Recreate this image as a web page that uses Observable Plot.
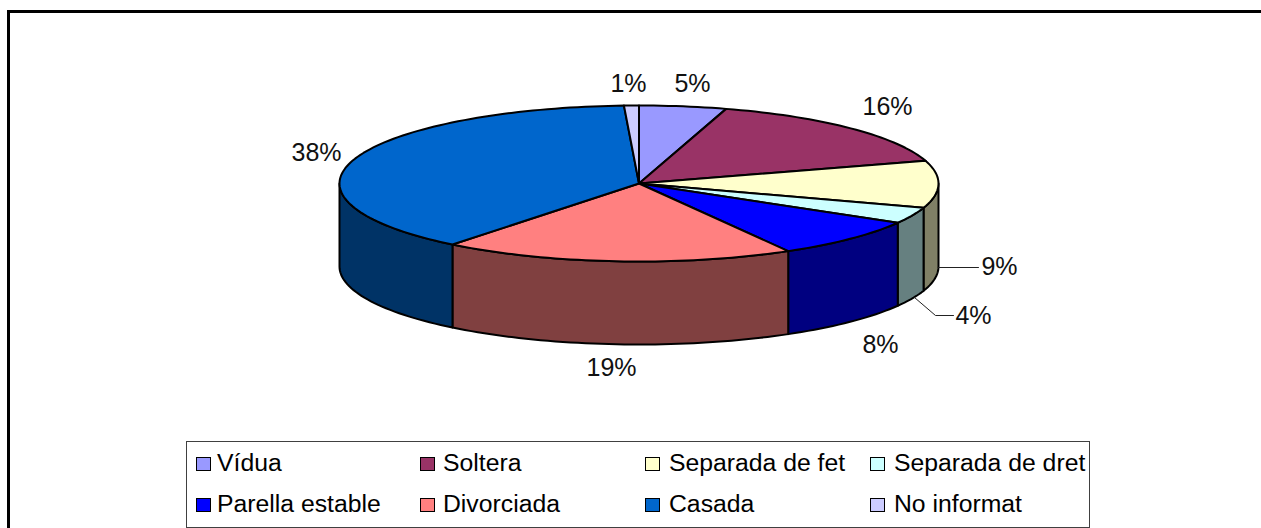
<!DOCTYPE html>
<html>
<head>
<meta charset="utf-8">
<script src="https://cdn.jsdelivr.net/npm/d3@7"></script>
<script src="https://cdn.jsdelivr.net/npm/@observablehq/plot@0.6"></script>
<style>
  html, body { margin: 0; padding: 0; background: #fff; overflow: hidden; }
  #stage { position: relative; width: 1261px; height: 528px; font-family: "Liberation Sans", Arial, sans-serif; color: #000; }
  #stage svg { position: absolute; left: 0; top: 0; background: transparent; }
  .frameL { position: absolute; left: 7px; top: 10px; width: 3px; height: 518px; background: #000; }
  .frameT { position: absolute; left: 7px; top: 10px; width: 1254px; height: 3px; background: #000; }
  #legend { position: absolute; left: 186px; top: 441px; width: 902px; height: 85px; border: 1px solid #404040; box-sizing: content-box; }
  .sw { position: absolute; width: 13px; height: 12px; border: 1.5px solid #000; }
  .lb { position: absolute; font-size: 24.75px; line-height: 28px; white-space: nowrap; }
</style>
</head>
<body>
<div id="stage">
  <div class="frameL"></div><div class="frameT"></div>
  <div id="chart"></div>
  <div id="legend"></div>
</div>
<script>
// Data
const categories = ["Vídua", "Soltera", "Separada de fet", "Separada de dret", "Parella estable", "Divorciada", "Casada", "No informat"];
const shares     = [4.7, 15.6, 9.75, 3.35, 8.3, 19.0, 38.5, 0.8];
const labels     = ["5%", "16%", "9%", "4%", "8%", "19%", "38%", "1%"];
const topColors  = ["#9999FF", "#993366", "#FFFFCC", "#CCFFFF", "#0000FF", "#FF8080", "#0066CC", "#CCCCFF"];
const sideColors = ["#4D4D80", "#4D1A33", "#808066", "#668080", "#000080", "#804040", "#003366", "#666680"];

// Layout
const W = 1261, H = 528;
const cx = 638.5, cy = 183, rx = 299.5, ry = 78, depth = 83;
const labelX = [692, 887, 999, 973, 880, 611, 316, 628];
const labelY = [83, 106, 266, 315, 344, 367, 152, 83];
const leaders = [
  {id: "9%", pts: [[938, 267], [978, 267]]},
  {id: "4%", pts: [[914, 297], [935, 315], [953, 315]]}
];
const legendColX = [[10, 31], [234, 257], [459, 483], [684, 708]];
const legendRowY = [15, 56];

// Geometry derived from the shares
const total = d3.sum(shares);
const cum = d3.cumsum(shares);
const ang = (i) => (i < 0 ? 0 : cum[i] / total * 360);
const rad = (a) => a * Math.PI / 180;
const px = (a) => cx + rx * Math.sin(rad(a));
const py = (a, dz = 0) => cy - ry * Math.cos(rad(a)) + dz;
const arc = (a0, a1, dz = 0) => {
  const n = Math.max(2, Math.ceil((a1 - a0) / 1.5));
  return d3.range(n + 1).map((k) => { const a = a0 + (a1 - a0) * k / n; return [px(a), py(a, dz)]; });
};

const topPts = [], sidePts = [];
categories.forEach((name, i) => {
  const a0 = ang(i - 1), a1 = ang(i);
  const poly = [[cx, cy], ...arc(a0, a1), [cx, cy]];
  poly.forEach(([x, y], k) => topPts.push({id: name, k, x, y, fill: topColors[i]}));
  const s0 = Math.max(a0, 90), s1 = Math.min(a1, 270);
  if (s1 > s0) {
    const side = [...arc(s0, s1), ...arc(s0, s1, depth).reverse()];
    side.push(side[0]);
    side.forEach(([x, y], k) => sidePts.push({id: name, k, x, y, fill: sideColors[i]}));
  }
});
const leaderPts = leaders.flatMap((l) => l.pts.map(([x, y]) => ({id: l.id, x, y})));
const labelRows = labels.map((text, i) => ({text, x: labelX[i], y: labelY[i]}));

const chart = Plot.plot({
  width: W, height: H, margin: 0,
  style: {background: "transparent"},
  x: {domain: [0, W], range: [0, W], axis: null},
  y: {domain: [0, H], range: [0, H], axis: null},
  color: {type: "identity"},
  marks: [
    Plot.line(sidePts, {x: "x", y: "y", z: "id", fill: "fill", stroke: "#000", strokeWidth: 2, curve: "linear"}),
    Plot.line(topPts, {x: "x", y: "y", z: "id", fill: "fill", stroke: "#000", strokeWidth: 2, curve: "linear"}),
    Plot.line(leaderPts, {x: "x", y: "y", z: "id", stroke: "#222", strokeWidth: 1, curve: "linear"}),
    Plot.text(labelRows, {x: "x", y: "y", text: "text", fontSize: 25, fontFamily: "Liberation Sans", fill: "#111", textAnchor: "middle"})
  ]
});
document.getElementById("chart").appendChild(chart);

// Legend
const legend = document.getElementById("legend");
categories.forEach((name, i) => {
  const col = i % 4, row = Math.floor(i / 4);
  const sw = document.createElement("div");
  sw.className = "sw";
  sw.style.left = legendColX[col][0] - 1 + "px";
  sw.style.top = legendRowY[row] + "px";
  sw.style.background = topColors[i];
  const lb = document.createElement("div");
  lb.className = "lb";
  lb.textContent = name;
  lb.style.left = legendColX[col][1] - 1 + "px";
  lb.style.top = legendRowY[row] - 8 + "px";
  legend.append(sw, lb);
});
</script>
</body>
</html>
